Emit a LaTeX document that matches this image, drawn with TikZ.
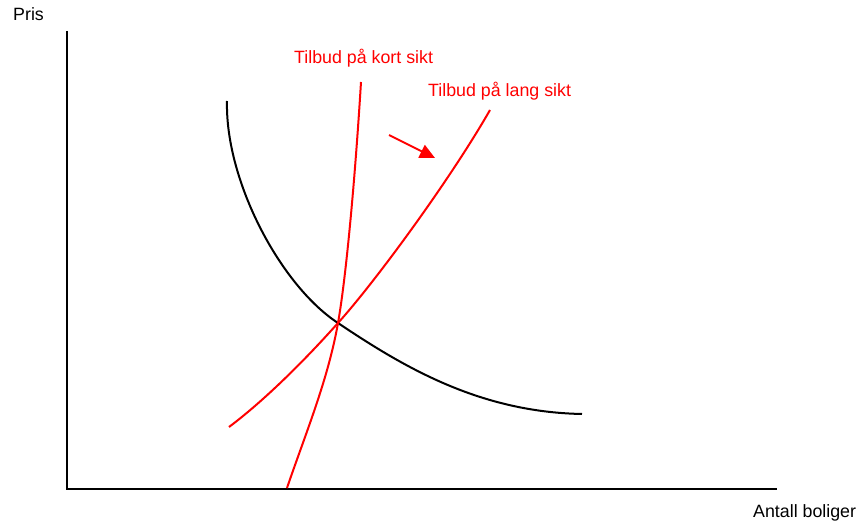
\documentclass[tikz,border=0pt]{standalone}
\usepackage{fontspec}
\setmainfont{Liberation Sans}
\usetikzlibrary{arrows.meta}
\begin{document}
\begin{tikzpicture}[x=1pt,y=-1pt,
  lbl/.style={anchor=base west,inner sep=0pt,font=\fontsize{17.8}{20}\selectfont},
  redlbl/.style={lbl,text=red},
  axis/.style={line width=2pt,black},
  demand/.style={line width=2pt,black},
  supply/.style={line width=2pt,red}]
\useasboundingbox (0,0) rectangle (860,524);
\coordinate (origin) at (67,489);
\coordinate (ytop) at (67,31);
\coordinate (xend) at (777,489);
\draw[axis] (ytop) -- (origin) -- (xend);
\node[lbl] (pris) at (13,21) {Pris};
\node[lbl] (antall) at (753,517) {Antall boliger};
\node[redlbl] (kort) at (294,64) {Tilbud på kort sikt};
\node[redlbl] (lang) at (428,97) {Tilbud på lang sikt};
\coordinate (eq) at (338,323);
% demand
\coordinate (d0) at (227,101);
\coordinate (d1) at (582,414);
\draw[demand] (d0) .. controls (225,180) and (280,285) .. (eq)
  .. controls (405,368) and (480,412) .. (d1);
% short-run supply
\coordinate (s0) at (287,488);
\coordinate (s1) at (361,82);
\draw[supply] (s0) .. controls (305,435) and (328,380) .. (eq)
  .. controls (346,278) and (355,180) .. (s1);
% long-run supply
\coordinate (l0) at (229,427);
\coordinate (l1) at (490,110);
\draw[supply] (l0) .. controls (265,400) and (305,360) .. (eq)
  .. controls (375,282) and (450,180) .. (l1);
% arrow
\coordinate (atail) at (389,135);
\coordinate (ahead) at (435,158);
\draw[line width=2pt,red,-{Triangle[length=15pt,width=14pt]}] (atail) -- (ahead);
\end{tikzpicture}
\end{document}
